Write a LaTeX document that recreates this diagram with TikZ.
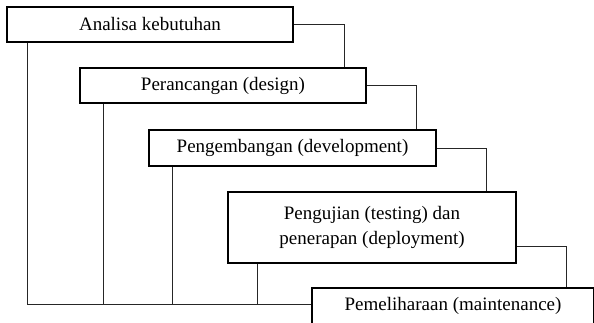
\documentclass[tikz,border=0pt]{standalone}
\usepackage{fontspec}
\setmainfont{Liberation Serif}
\begin{document}
\begin{tikzpicture}[x=1pt,y=-1pt,
  stage/.style={draw,line width=1.6pt,inner sep=0pt,align=center,font=\fontsize{19}{25}\selectfont},
  link/.style={draw=black!85,line width=0.8pt}]
  \useasboundingbox (0,0) rectangle (594,323);
  \node[stage,minimum width=286pt,minimum height=35pt] (analisa) at (150,24.5) {Analisa kebutuhan};
  \node[stage,minimum width=286pt,minimum height=35pt] (perancangan) at (223,85.5) {Perancangan (design)};
  \node[stage,minimum width=287pt,minimum height=36pt] (pengembangan) at (292.5,148) {Pengembangan (development)};
  \node[stage,minimum width=288pt,minimum height=71pt] (pengujian) at (372,227.5) {Pengujian (testing) dan\\penerapan (deployment)};
  \node[stage,minimum width=282pt,minimum height=36pt] (pemeliharaan) at (453,306) {Pemeliharaan (maintenance)};
  \coordinate (base) at (0,304);
  \draw[link] (analisa.east) -| (perancangan.north -| 344,0);
  \draw[link] (perancangan.east) -| (pengembangan.north -| 416,0);
  \draw[link] (pengembangan.east) -| (pengujian.north -| 486,0);
  \draw[link] (pengujian.east |- 0,246) -| (pemeliharaan.north -| 566,0);
  \draw[link] (analisa.south -| 27,0) |- (pemeliharaan.west |- base);
  \draw[link] (perancangan.south -| 103,0) -- (base -| 103,0);
  \draw[link] (pengembangan.south -| 172,0) -- (base -| 172,0);
  \draw[link] (pengujian.south -| 257,0) -- (base -| 257,0);
\end{tikzpicture}
\end{document}
